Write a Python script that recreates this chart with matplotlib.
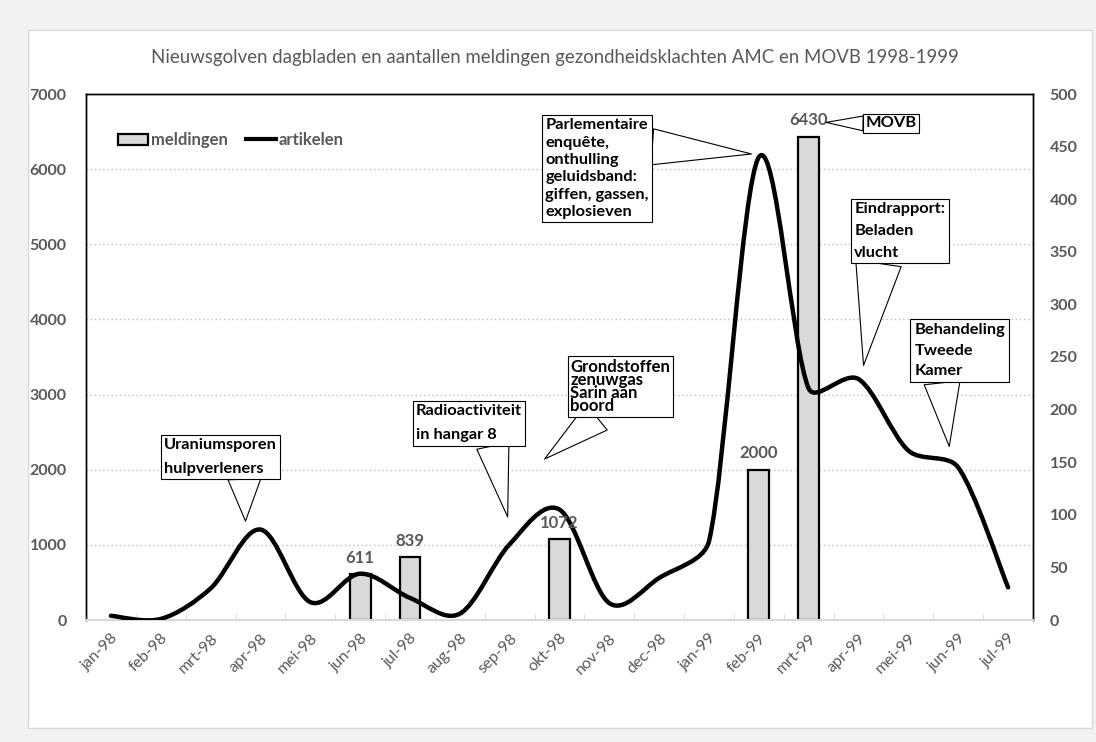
import numpy as np
import matplotlib.pyplot as plt
from matplotlib.path import Path
from matplotlib.patches import PathPatch, Patch, Rectangle
from matplotlib.lines import Line2D

plt.rcParams['font.family'] = ['Lato', 'DejaVu Sans']

maanden = ['jan-98', 'feb-98', 'mrt-98', 'apr-98', 'mei-98', 'jun-98', 'jul-98',
           'aug-98', 'sep-98', 'okt-98', 'nov-98', 'dec-98', 'jan-99', 'feb-99',
           'mrt-99', 'apr-99', 'mei-99', 'jun-99', 'jul-99']
artikelen = [4, 1, 30, 86, 17, 44, 21, 6, 72, 105, 16, 40, 75, 440, 220, 229, 161, 145, 31]

melding_maanden = ['jun-98', 'jul-98', 'okt-98', 'feb-99', 'mrt-99']
meldingen = [611, 839, 1072, 2000, 6430]

GRIJS = '#595959'


def glad_pad(ax, xs, ys):
    # Excel-achtige vloeiende lijn: bezier door de punten, in schermpixels berekend
    tr = ax.transData
    pts = tr.transform(np.column_stack([xs, ys]).astype(float))
    n = len(pts)
    verts = [pts[0]]
    codes = [Path.MOVETO]
    for i in range(n - 1):
        p0 = pts[i - 1] if i > 0 else pts[i]
        p1 = pts[i]
        p2 = pts[i + 1]
        p3 = pts[i + 2] if i + 2 < n else pts[i + 1]
        seg = np.hypot(*(p2 - p1)) / 3
        d1 = (p2 - p0) / 6
        d2 = (p3 - p1) / 6
        l1, l2 = np.hypot(*d1), np.hypot(*d2)
        if l1 > seg:
            d1 = d1 * seg / l1
        if l2 > seg:
            d2 = d2 * seg / l2
        verts += [p1 + d1, p2 - d2, p2]
        codes += [Path.CURVE4] * 3
    verts = tr.inverted().transform(np.array(verts))
    return Path(verts, codes)


def ballon(ax, tekst, tekst_xy, punt_xy, relpos, breedte=2.0, ls=1.05, pad=0.3, size=11.8):
    ax.annotate(tekst, xy=punt_xy, xytext=tekst_xy, ha='center', va='center',
                multialignment='left', fontsize=size, fontweight='bold',
                color='black', linespacing=ls, zorder=6,
                bbox=dict(boxstyle=f'square,pad={pad}', fc='white', ec='black', lw=0.8),
                arrowprops=dict(arrowstyle=f'wedge,tail_width={breedte},shrink_factor=0.5',
                                fc='white', ec='black', lw=0.8, relpos=relpos,
                                shrinkA=0, shrinkB=0))


fig = plt.figure(figsize=(10.96, 7.42), dpi=100)
fig.patch.set_facecolor('#f2f2f2')
fig.add_artist(Rectangle((28 / 1096, 14 / 742), 1064 / 1096, 698 / 742,
                         transform=fig.transFigure, fc='white', ec='#d9d9d9', lw=1, zorder=0))

ax = fig.add_axes([86 / 1096, 122 / 742, 947 / 1096, 526 / 742])
x = np.arange(len(maanden))
bar_x = [maanden.index(m) for m in melding_maanden]

ax.bar(bar_x, meldingen, width=0.42, color='#d9d9d9', edgecolor='black', lw=1.6, zorder=2)
ax.set_xlim(-0.5, len(maanden) - 0.5)
ax.set_ylim(0, 7000)
ax.set_yticks(range(0, 7001, 1000))
ax.yaxis.grid(True, ls=(0, (1, 2)), color='#bfbfbf', lw=1)
ax.set_axisbelow(True)

ax.set_xticks(x)
ax.set_xticklabels(maanden, rotation=45, ha='right', rotation_mode='anchor')
ax.set_xticks(x[1:] - 0.5, minor=True)
ax.tick_params(axis='x', which='major', length=0, pad=8, labelsize=11.5, labelcolor=GRIJS)
ax.tick_params(axis='x', which='minor', length=5, direction='in', color='#d9d9d9')
ax.tick_params(axis='y', length=0, pad=14, labelsize=11.5, labelcolor=GRIJS)
for lab in ax.get_yticklabels():
    lab.set_fontweight('bold')

ax2 = ax.twinx()
ax2.set_ylim(0, 500)
ax2.set_yticks(range(0, 501, 50))
ax2.tick_params(axis='y', length=0, pad=12, labelsize=11.5, labelcolor=GRIJS)
for lab in ax2.get_yticklabels():
    lab.set_fontweight('bold')

for a in (ax, ax2):
    for s in ('left', 'top', 'right'):
        a.spines[s].set_color('black')
        a.spines[s].set_linewidth(1)
    a.spines['bottom'].set_color('#d9d9d9')
    a.spines['bottom'].set_linewidth(1.5)

ax2.add_patch(PathPatch(glad_pad(ax2, x, artikelen), fill=False, ec='black', lw=3.2,
                        capstyle='round', joinstyle='round', zorder=3))

for bx, v in zip(bar_x, meldingen):
    ax2.annotate(str(v), xy=(bx, v), xycoords=ax.transData, xytext=(0, 6),
                 textcoords='offset points', ha='center', va='bottom',
                 fontsize=12, fontweight='bold', color=GRIJS, zorder=5)

ballon(ax2, 'Uraniumsporen\nhulpverleners', (2.2, 155), (2.7, 94), (0.71, 0), ls=1.85, pad=0.2)
ballon(ax2, 'Radioactiviteit\nin hangar 8', (7.18, 187), (7.96, 98), (0.72, 0), ls=1.9, pad=0.2)
ballon(ax2, 'Grondstoffen\nzenuwgas\nSarin aan\nboord', (10.22, 222), (8.7, 153),
       (0.3, 0), breedte=2.0, ls=0.78, pad=0.15, size=12)
ballon(ax2, 'Parlementaire\nenquête,\nonthulling\ngeluidsband:\ngiffen, gassen,\nexplosieven',
       (9.75, 429), (12.85, 443), (1, 0.72), breedte=2.2, ls=1.3, pad=0.2)
ballon(ax2, 'Eindrapport:\nBeladen\nvlucht', (15.83, 370), (15.1, 242), (0.27, 0),
       breedte=2.8, ls=1.72, pad=0.2)
ballon(ax2, 'Behandeling\nTweede\nKamer', (17.03, 256), (16.82, 165), (0.3, 0),
       breedte=2.2, ls=1.6, pad=0.25)
ballon(ax2, 'MOVB', (15.66, 472), (14.35, 473), (0, 0.5), breedte=0.9, pad=0.15)

ax2.legend(handles=[Patch(fc='#d9d9d9', ec='black', lw=1.6, label='meldingen'),
                    Line2D([], [], color='black', lw=3, label='artikelen')],
           loc='upper left', bbox_to_anchor=(0.027, 0.94), borderaxespad=0, ncol=2,
           frameon=False, prop=dict(weight='bold', size=12), labelcolor=GRIJS,
           handlelength=1.8, handletextpad=0.15, columnspacing=1.1)

fig.text(555 / 1096, 1 - 58 / 742,
         'Nieuwsgolven dagbladen en aantallen meldingen gezondheidsklachten AMC en MOVB 1998-1999',
         ha='center', va='center', fontsize=13.4, color=GRIJS)

fig.savefig('out.png', dpi=100, facecolor=fig.get_facecolor())
